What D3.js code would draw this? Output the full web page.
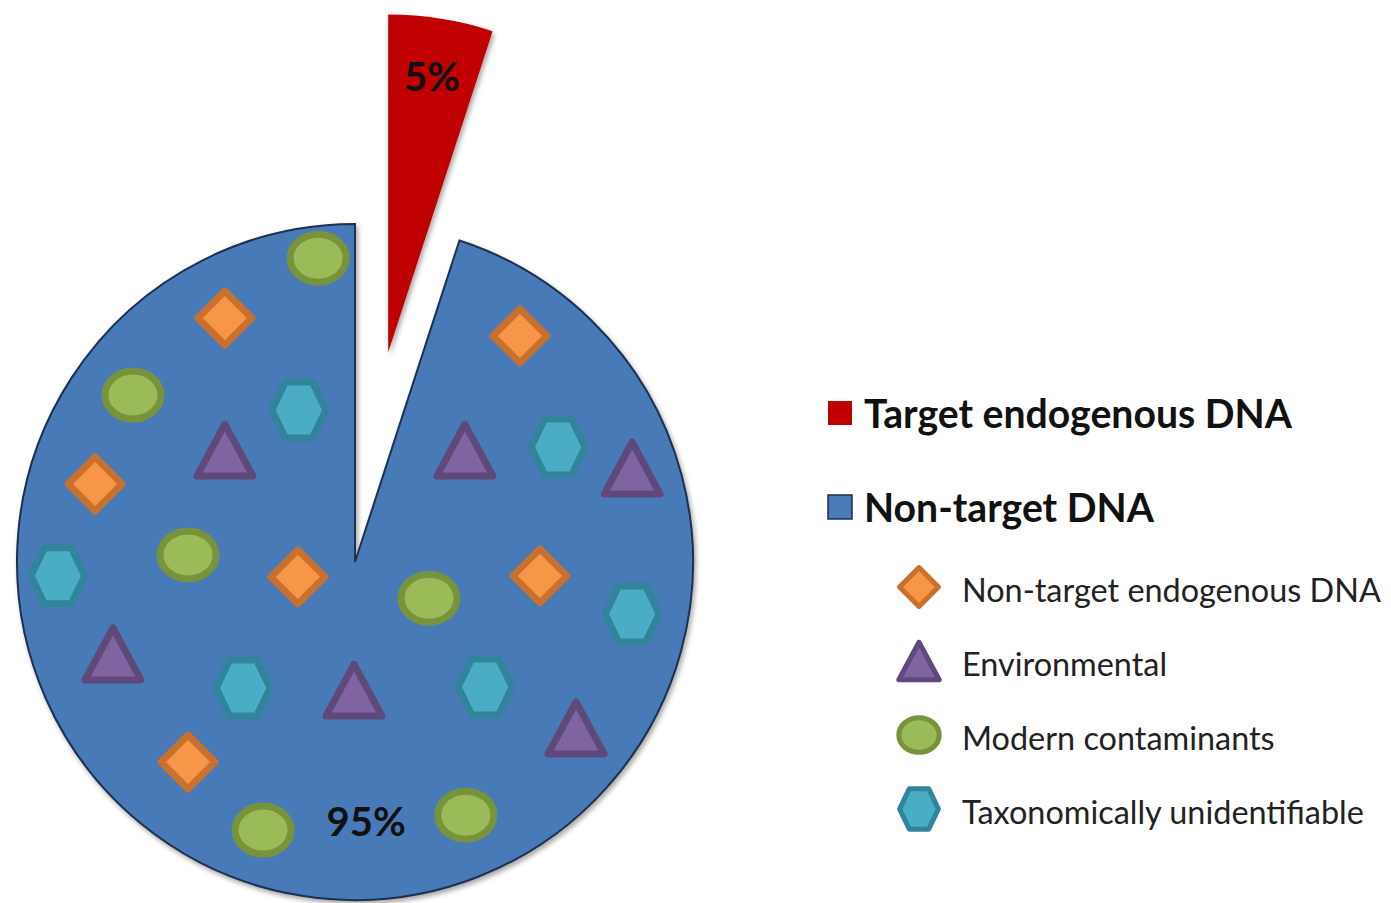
<!DOCTYPE html>
<html>
<head>
<meta charset="utf-8">
<script src="https://cdn.jsdelivr.net/npm/d3@7"></script>
<style>
  body { margin: 0; background: #fff; }
  text { font-family: Lato, "Open Sans", sans-serif; }
</style>
</head>
<body>
<svg id="chart" width="1391" height="903"></svg>
<script>
// pie data
var categories = ["Target endogenous DNA", "Non-target DNA"];
var values = [5, 95];
var labels = ["5%", "95%"];
var colors = ["#c00000", "#4a7ab8"];

// symbol legend
var symbolNames = ["Non-target endogenous DNA", "Environmental", "Modern contaminants", "Taxonomically unidentifiable"];

// symbol positions inside the pie, in pie units (-1..1, centre = 0)
var diamondX = [-0.385, 0.488, -0.769, -0.169, 0.547, -0.494];
var diamondY = [-0.722, -0.669, -0.231, 0.044, 0.041, 0.592];
var triangleX = [-0.385, 0.325, 0.820, -0.716, -0.003, 0.654];
var triangleY = [-0.331, -0.331, -0.278, 0.272, 0.379, 0.491];
var ellipseX = [-0.109, -0.657, -0.494, 0.219, -0.272, 0.328];
var ellipseY = [-0.899, -0.494, -0.021, 0.107, 0.793, 0.749];
var hexagonX = [-0.166, 0.601, -0.879, 0.820, -0.331, 0.385];
var hexagonY = [-0.450, -0.340, 0.041, 0.154, 0.373, 0.370];

var cx = 355, cy = 562, radius = 338, explode = 212;

var svg = d3.select("#chart");

var defs = svg.append("defs");
var f = defs.append("filter").attr("id", "shadow")
  .attr("x", "-10%").attr("y", "-10%").attr("width", "120%").attr("height", "120%");
f.append("feDropShadow").attr("dx", 2).attr("dy", 3).attr("stdDeviation", 2.5)
  .attr("flood-color", "#000").attr("flood-opacity", 0.35);

var pie = d3.pie().sort(null).value(function(d) { return d; });
var arc = d3.arc().innerRadius(0).outerRadius(radius);
var arcs = pie(values);

var g = svg.append("g").attr("transform", "translate(" + cx + "," + cy + ")");

// slices
g.selectAll("path.slice")
  .data(arcs)
  .enter().append("path")
    .attr("class", "slice")
    .attr("d", arc)
    .attr("fill", function(d, i) { return colors[i]; })
    .attr("stroke", function(d, i) { return i == 1 ? "#1c3050" : "none"; })
    .attr("stroke-width", 2)
    .attr("filter", "url(#shadow)")
    .attr("transform", function(d, i) {
      if (i != 0) return null;
      var a = (d.startAngle + d.endAngle) / 2;
      return "translate(" + (Math.sin(a) * explode) + "," + (-Math.cos(a) * explode) + ")";
    });

// scales for symbols inside the pie
var sx = d3.scaleLinear().domain([-1, 1]).range([-radius, radius]);
var sy = d3.scaleLinear().domain([-1, 1]).range([-radius, radius]);

var styles = [
  {fill: "#f79646", stroke: "#c8702e"},
  {fill: "#8064a2", stroke: "#5f497a"},
  {fill: "#9bbb59", stroke: "#77933c"},
  {fill: "#4bacc6", stroke: "#31849b"}
];

function drawSymbol(sel, type) {
  var st = styles[type];
  var el;
  if (type == 0) {
    el = sel.append("path").attr("d", "M0,-27L27,0L0,27L-27,0Z");
  } else if (type == 1) {
    el = sel.append("path").attr("d", "M0,-26L28,26L-28,26Z");
  } else if (type == 2) {
    el = sel.append("ellipse").attr("rx", 28).attr("ry", 24);
  } else {
    el = sel.append("path").attr("d", "M-27,0L-13.5,-28L13.5,-28L27,0L13.5,28L-13.5,28Z");
  }
  el.attr("fill", st.fill).attr("stroke", st.stroke).attr("stroke-width", 7)
    .attr("stroke-linejoin", "round");
}

var sets = [[diamondX, diamondY], [triangleX, triangleY], [ellipseX, ellipseY], [hexagonX, hexagonY]];
sets.forEach(function(s, type) {
  s[0].forEach(function(x, i) {
    var sg = g.append("g").attr("transform", "translate(" + sx(x) + "," + sy(s[1][i]) + ")");
    drawSymbol(sg, type);
  });
});

// slice labels
g.append("text")
  .attr("x", sx(0.228)).attr("y", sy(-1.395))
  .attr("text-anchor", "middle").attr("font-size", 40).attr("font-weight", "bold")
  .attr("fill", "#111").text(labels[0]);
g.append("text")
  .attr("x", sx(0.033)).attr("y", sy(0.81))
  .attr("text-anchor", "middle").attr("font-size", 40).attr("font-weight", "bold")
  .attr("fill", "#111").text(labels[1]);

// legend - main categories
var legend = svg.append("g");
var bigY = [428, 522];
categories.forEach(function(c, i) {
  legend.append("rect")
    .attr("x", 828).attr("y", bigY[i] - 27).attr("width", 24).attr("height", 24)
    .attr("fill", colors[i])
    .attr("stroke", i == 1 ? "#1c3050" : "none").attr("stroke-width", 1.5);
  legend.append("text")
    .attr("class", "big")
    .attr("x", 864).attr("y", bigY[i])
    .attr("font-size", 37).attr("font-weight", "bold").attr("fill", "#111")
    .text(c);
});

// legend - symbols
var smallY = [602, 676, 750, 824];
symbolNames.forEach(function(n, i) {
  var sg = legend.append("g").attr("transform", "translate(919," + (smallY[i] - 15) + ")");
  drawSymbol(sg.append("g").attr("transform", "scale(0.72)"), i);
  legend.append("text")
    .attr("class", "small")
    .attr("x", 962).attr("y", smallY[i])
    .attr("font-size", 32).attr("fill", "#222")
    .text(n);
});

// fit legend text widths to the reference
function fit(sel, target) {
  var node = sel.node();
  var w = node.getComputedTextLength();
  var fs = +sel.attr("font-size");
  sel.attr("font-size", fs * target / w);
}
fit(legend.select("text.big"), 428);
var k = +legend.select("text.big").attr("font-size");
legend.selectAll("text.big").attr("font-size", k);
fit(legend.select("text.small"), 419);
var k2 = +legend.select("text.small").attr("font-size");
legend.selectAll("text.small").attr("font-size", k2);
</script>
</body>
</html>
